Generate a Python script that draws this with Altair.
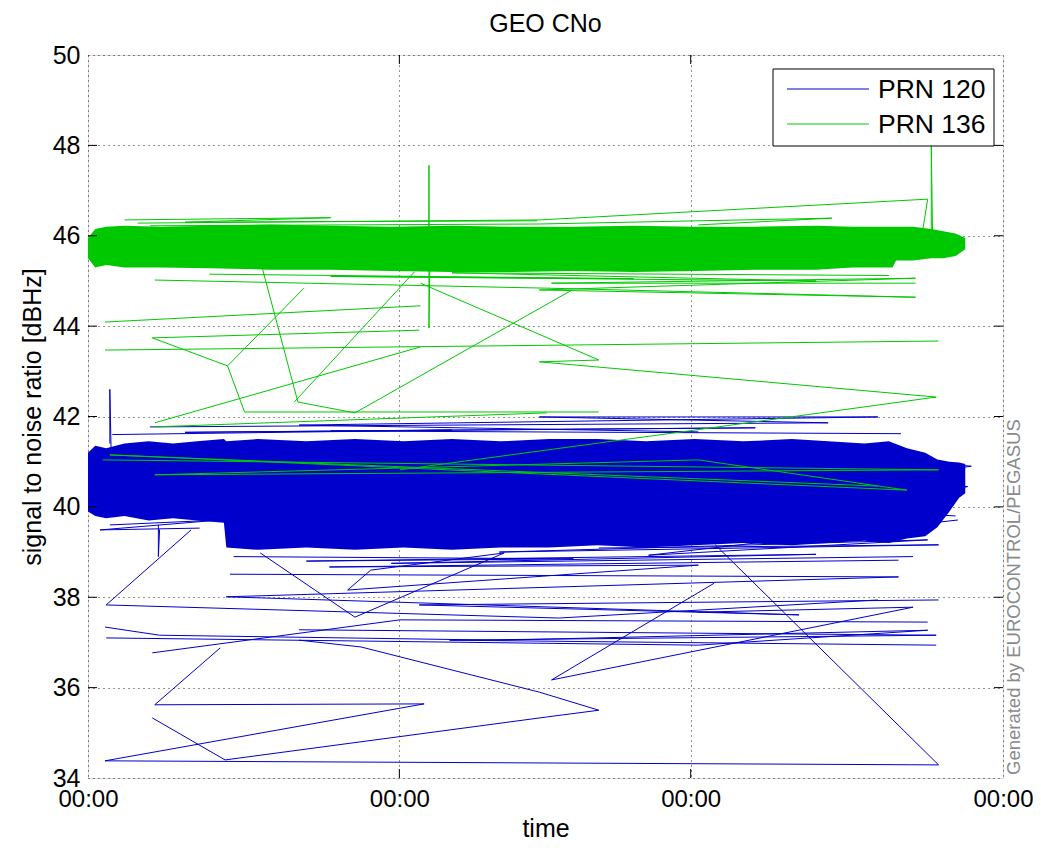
import altair as alt
import pandas as pd

# ---------------- data (x in hours from start, y in dBHz) ----------------
x_ticks = [0, 25.66, 49.67, 75.41]
y_ticks = [34, 36, 38, 40, 42, 44, 46, 48, 50]
series_names = ["PRN 120", "PRN 136"]
series_colors = ["#0000CC", "#00C800"]
watermark_text = "Generated by EUROCONTROL/PEGASUS"

# dense parts of the two records (envelopes)
blue_band_h = [0, 0.6, 1.5, 3, 5, 7, 9, 11.2, 11.4, 14, 18, 22, 26, 30, 34, 38, 42, 46, 50,
               54, 58, 61, 64, 66, 67.5, 69, 70, 71, 71.8, 72.3]
blue_band_top = [41.2, 41.35, 41.3, 41.4, 41.45, 41.4, 41.45, 41.5, 41.45, 41.5, 41.45, 41.5, 41.45,
                 41.5, 41.45, 41.5, 41.5, 41.45, 41.5, 41.45, 41.5, 41.45, 41.4, 41.45, 41.3, 41.2,
                 41.05, 41.0, 40.98, 40.95]
blue_band_bottom = [39.9, 39.8, 39.75, 39.8, 39.7, 39.75, 39.7, 39.65, 39.1, 39.05, 39.1, 39.05, 39.1,
                    39.05, 39.1, 39.1, 39.15, 39.1, 39.15, 39.2, 39.15, 39.2, 39.25, 39.2, 39.3, 39.35,
                    39.55, 39.9, 40.2, 40.3]

green_band_h = [0, 0.6, 1.5, 3, 6, 10, 15, 20, 25, 30, 35, 40, 45, 50, 55, 60, 63, 66.3, 66.6,
                68, 69.5, 70.5, 71.5, 72.3]
green_band_top = [45.95, 46.15, 46.2, 46.22, 46.2, 46.22, 46.25, 46.22, 46.2, 46.22, 46.2, 46.2,
                  46.22, 46.2, 46.2, 46.22, 46.2, 46.2, 46.2, 46.2, 46.15, 46.1, 46.05, 45.95]
green_band_bottom = [45.5, 45.3, 45.35, 45.3, 45.3, 45.28, 45.25, 45.25, 45.22, 45.2, 45.2, 45.22,
                     45.2, 45.22, 45.25, 45.25, 45.3, 45.3, 45.45, 45.45, 45.5, 45.5, 45.55, 45.7]

# sparse excursions of PRN 120 (time-ordered polylines)
blue_paths = {
    "b_spike1": [(1.8, 41.4), (1.8, 42.6), (1.9, 41.3)],
    "b_spike2": [(5.8, 39.6), (5.8, 38.9), (5.9, 39.5)],
    "b1": [(8.5, 39.49), (1.5, 37.83), (38.8, 37.54), (65.1, 37.94)],
    "b2": [(1.4, 37.34), (5.9, 37.16), (33.9, 37.05), (69.2, 37.27), (50.3, 36.94), (1.5, 37.10)],
    "b3": [(5.3, 36.77), (25.7, 37.50), (69.2, 37.45)],
    "b4": [(10.9, 36.88), (5.5, 35.62), (27.7, 35.64), (1.4, 34.38), (70.1, 34.29), (51.7, 39.16)],
    "b5": [(5.3, 35.33), (11.3, 34.40), (37.8, 35.35), (42.1, 35.50), (37.2, 35.90), (22.5, 36.90), (17.4, 37.05)],
    "b6": [(51.6, 38.31), (38.2, 36.17), (68.0, 37.78), (50.3, 37.67)],
    "b7": [(11.7, 38.51), (66.8, 38.45), (11.4, 38.01), (58.6, 37.61), (27.3, 37.83), (70.1, 37.94)],
    "b8": [(14.2, 38.98), (22.0, 37.56), (34.3, 38.98), (23.3, 38.60), (21.4, 38.16), (50.3, 38.71),
           (19.9, 38.67), (66.8, 38.82)],
    "b9": [(5.1, 41.77), (61.0, 41.86), (37.2, 41.99), (65.1, 41.99), (17.4, 41.81), (50.3, 41.66)],
    "b10": [(42.1, 39.09), (70.1, 39.16), (33.9, 39.0), (69.2, 39.27), (46.2, 38.93), (71.7, 39.71)],
    "b11": [(1.8, 39.6), (10.9, 39.71), (1.0, 39.49), (9.2, 39.53)],
    "b12": [(17.4, 37.28), (69.9, 37.16), (29.8, 37.05), (69.9, 36.94)],
    "b_fr1": [(2, 41.6), (30, 41.7), (8, 41.65), (55, 41.75), (20, 41.68), (67, 41.62)],
    "b_fr2": [(12, 38.9), (40, 38.85), (18, 38.8), (60, 38.95), (25, 38.75), (68, 38.9)],
    "b_fr3": [(60, 41.2), (72.8, 40.9), (62, 40.5), (72.5, 40.45), (64, 39.9), (71.5, 39.8)],
}

# sparse excursions of PRN 136
green_paths = {
    "g_spike1": [(28.1, 45.9), (28.1, 47.56), (28.1, 43.96), (28.2, 45.8)],
    "g_spike2": [(69.5, 46.13), (69.5, 48.0), (69.6, 46.1)],
    "g3": [(4.1, 46.28), (37.2, 46.35), (69.2, 46.81), (68.8, 46.13)],
    "g4": [(5.1, 46.22), (37.2, 46.26), (61.3, 46.39), (50.3, 46.24)],
    "g5": [(5.5, 45.02), (37.8, 44.84), (68.2, 44.64), (37.2, 44.80), (68.2, 45.06), (38.2, 44.95), (68.2, 44.95)],
    "g6": [(1.4, 44.09), (27.4, 44.45)],
    "g7": [(1.4, 43.47), (70.1, 43.67)],
    "g8": [(27.3, 43.91), (5.3, 43.74), (11.5, 43.12), (17.8, 44.84)],
    "g9": [(11.5, 43.12), (12.9, 42.10), (42.1, 42.10)],
    "g10": [(14.3, 45.35), (17.3, 42.32), (22.0, 42.08), (39.9, 44.80)],
    "g11": [(5.5, 41.86), (27.4, 43.54)],
    "g12": [(17.0, 42.32), (26.9, 45.20)],
    "g13": [(27.4, 44.95), (42.1, 43.25), (37.2, 43.21), (69.9, 42.43), (48.1, 41.63), (25.7, 40.82)],
    "g14": [(5.4, 41.77), (37.8, 42.08)],
    "g15": [(1.2, 41.04), (70.1, 40.82), (5.5, 40.71), (50.3, 41.04), (67.5, 40.37), (1.8, 41.15), (65.1, 40.46)],
    "g_fr1": [(10, 45.15), (45, 45.05), (20, 45.1), (60, 45.0), (30, 45.18), (66, 45.12)],
    "g_fr2": [(3, 46.35), (20, 46.4), (8, 46.3), (37, 46.33)],
}

# ---------------- tables ----------------
def band_df(h, top, bottom):
    return pd.DataFrame({"h": h, "top": top, "bottom": bottom})

def paths_df(paths, name):
    rows = []
    for key, pts in paths.items():
        for i, (h, v) in enumerate(pts):
            rows.append({"path": key, "i": i, "h": h, "v": v, "series": name})
    return pd.DataFrame(rows)

blue_band = band_df(blue_band_h, blue_band_top, blue_band_bottom)
green_band = band_df(green_band_h, green_band_top, green_band_bottom)
blue_lines = paths_df(blue_paths, series_names[0])
green_lines = paths_df(green_paths, series_names[1])

W, H = 915, 723
FONT = "Liberation Sans"

x_scale = alt.Scale(domain=[0, 75.41], nice=False, zero=False)
y_scale = alt.Scale(domain=[34, 50], nice=False, zero=False)

x_axis = alt.Axis(values=x_ticks, labelExpr="'00:00'", title="time", grid=True,
                  gridColor="#000000", gridDash=[1, 4], gridOpacity=0.85,
                  ticks=False, tickSize=0, domain=False, labelFontSize=24,
                  titleFontSize=25, labelPadding=9, titlePadding=5,
                  labelColor="black", titleColor="black", titleFontWeight="normal",
                  labelFont=FONT, titleFont=FONT, labelFlush=False, labelOverlap=False)
y_axis = alt.Axis(values=y_ticks, title="signal to noise ratio [dBHz]", grid=True,
                  gridColor="#000000", gridDash=[1, 4], gridOpacity=0.85,
                  ticks=False, tickSize=0, domain=False, labelFontSize=25,
                  titleFontSize=25, labelPadding=8, titlePadding=7,
                  labelColor="black", titleColor="black", titleFontWeight="normal",
                  labelFont=FONT, titleFont=FONT)

blue_area = alt.Chart(blue_band).mark_area(color=series_colors[0], opacity=1).encode(
    x=alt.X("h:Q", scale=x_scale, axis=x_axis),
    y=alt.Y("top:Q", scale=y_scale, axis=y_axis), y2="bottom:Q")
green_area = alt.Chart(green_band).mark_area(color=series_colors[1], opacity=1).encode(
    x=alt.X("h:Q", scale=x_scale), y=alt.Y("top:Q", scale=y_scale), y2="bottom:Q")

def line_layer(df, color):
    return alt.Chart(df).mark_line(strokeWidth=1, color=color).encode(
        x=alt.X("h:Q", scale=x_scale),
        y=alt.Y("v:Q", scale=y_scale),
        detail="path:N",
        order="i:Q",
    )

blue_line_layer = line_layer(blue_lines, series_colors[0])
green_line_layer = line_layer(green_lines, series_colors[1])

# inward tick marks (MATLAB style), positioned by the axis tick values
ytick_df = pd.DataFrame({"v": y_ticks[1:-1]})
xtick_df = pd.DataFrame({"h": x_ticks[1:-1]})
tick_len = 9
ticks_left = alt.Chart(ytick_df).mark_rule(color="black").encode(
    y=alt.Y("v:Q", scale=y_scale), x=alt.value(0), x2=alt.value(tick_len))
ticks_right = alt.Chart(ytick_df).mark_rule(color="black").encode(
    y=alt.Y("v:Q", scale=y_scale), x=alt.value(W - tick_len), x2=alt.value(W))
ticks_bottom = alt.Chart(xtick_df).mark_rule(color="black").encode(
    x=alt.X("h:Q", scale=x_scale), y=alt.value(H - tick_len), y2=alt.value(H))
ticks_top = alt.Chart(xtick_df).mark_rule(color="black").encode(
    x=alt.X("h:Q", scale=x_scale), y=alt.value(0), y2=alt.value(tick_len))

# boxed legend in the upper right corner (MATLAB style)
legend_df = pd.DataFrame({"name": series_names})
LX0, LX1, LY0, LY1 = 685, 906, 14, 91
row_y = [34, 69]
legend_box = alt.Chart(legend_df.head(1)).mark_rect(
    fill="white", stroke="black", strokeWidth=1
).encode(x=alt.value(LX0), x2=alt.value(LX1), y=alt.value(LY0), y2=alt.value(LY1))
legend_layers = [legend_box]
for k, name in enumerate(series_names):
    one = legend_df.iloc[[k]]
    legend_layers.append(alt.Chart(one).mark_rule(color=series_colors[k], strokeWidth=1).encode(
        x=alt.value(699), x2=alt.value(781), y=alt.value(row_y[k])))
    legend_layers.append(alt.Chart(one).mark_text(
        align="left", baseline="middle", fontSize=26.5, font=FONT, color="black"
    ).encode(text="name:N", x=alt.value(790), y=alt.value(row_y[k] + 1)))

watermark = alt.Chart(pd.DataFrame({"t": [watermark_text]})).mark_text(
    angle=270, align="left", baseline="middle", fontSize=18.5, font=FONT, color="#8a8a8a"
).encode(text="t:N", x=alt.value(W + 11), y=alt.value(H - 3))

chart = alt.layer(
    blue_area, blue_line_layer, green_area, green_line_layer,
    ticks_left, ticks_right, ticks_bottom, ticks_top, *legend_layers, watermark
).properties(
    width=W, height=H,
    title=alt.TitleParams("GEO CNo", fontSize=25, font=FONT, fontWeight="normal",
                          color="black", frame="group", anchor="middle", offset=6),
    padding={"left": 80, "top": 47, "right": 30, "bottom": 64},
    autosize=alt.AutoSizeParams(type="none"),
).configure_view(stroke="black", strokeWidth=1).configure(background="white")

chart.save("out.html", embed_options={"renderer": "svg", "actions": False})
